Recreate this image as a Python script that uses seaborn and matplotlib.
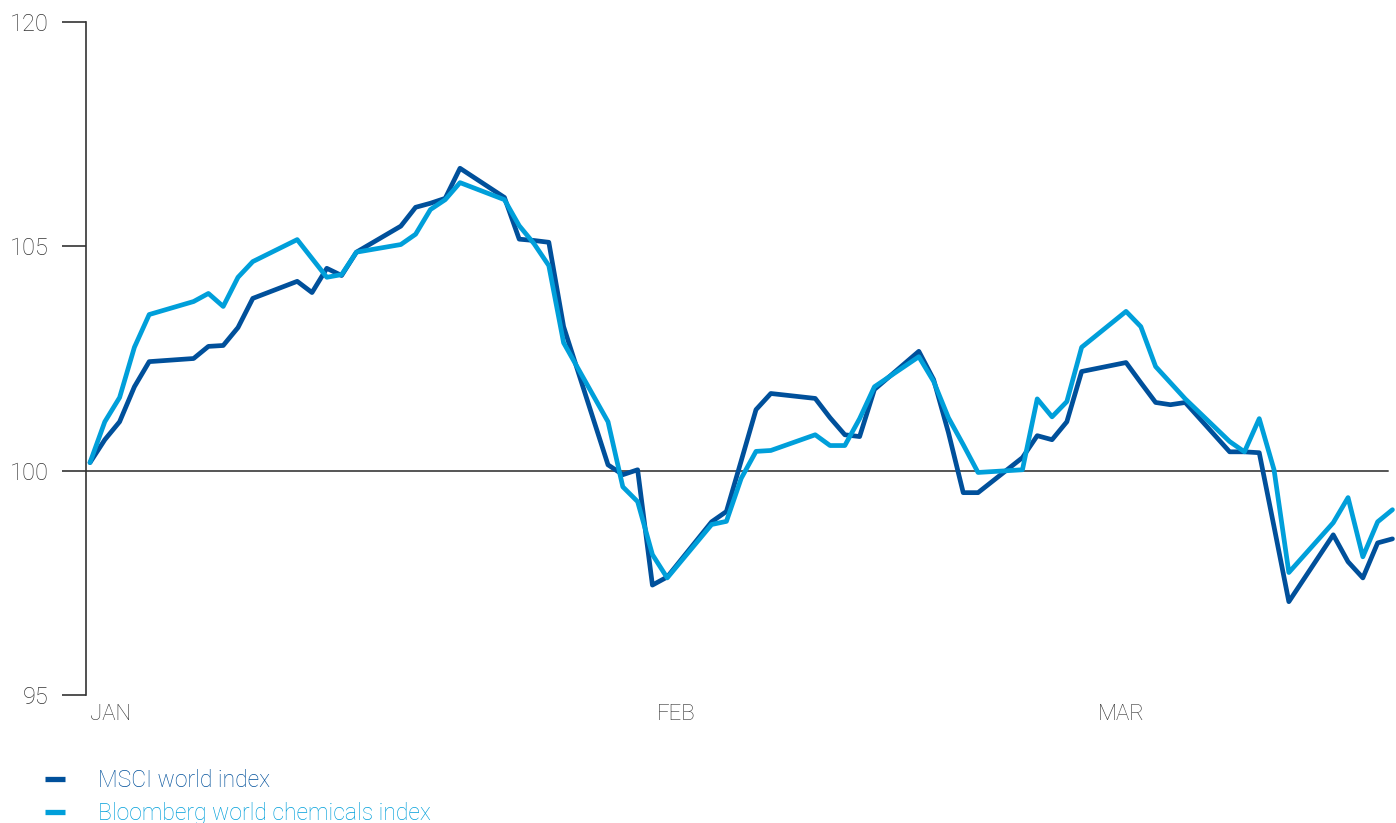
import matplotlib
matplotlib.use("Agg")
import matplotlib.pyplot as plt
import seaborn as sns
import pandas as pd

# trading days counted from the first day of the chart
days = [0, 1, 2, 3, 4, 7, 8, 9, 10, 11, 14, 15, 16, 17, 18, 21, 22, 23, 24, 25,
        28, 29, 30, 31, 32, 35, 36, 37, 38, 39, 42, 43, 44, 45, 46, 49, 50, 51, 52, 53,
        56, 57, 58, 59, 60, 63, 64, 65, 66, 67, 70, 71, 72, 73, 74, 77, 78, 79, 80, 81,
        84, 85, 86, 87, 88]

msci = [100.18, 100.69, 101.09, 101.87, 102.43, 102.50, 102.77, 102.79, 103.19, 103.84,
        104.22, 103.97, 104.51, 104.35, 104.87, 105.45, 105.87, 105.96, 106.07, 106.74,
        106.09, 105.16, 105.13, 105.09, 103.21, 100.13, 99.91, 100.02, 97.45, 97.63,
        98.86, 99.09, 100.22, 101.36, 101.72, 101.61, 101.18, 100.80, 100.76, 101.81,
        102.66, 102.03, 100.85, 99.51, 99.51, 100.29, 100.78, 100.69, 101.09, 102.21,
        102.41, 101.96, 101.52, 101.47, 101.52, 100.42, 100.42, 100.40, 98.75, 97.08,
        98.57, 97.97, 97.61, 98.39, 98.48]

chemicals = [100.18, 101.09, 101.63, 102.75, 103.48, 103.77, 103.95, 103.66, 104.31, 104.66,
             105.15, 104.73, 104.31, 104.37, 104.87, 105.04, 105.27, 105.82, 106.04, 106.42,
             106.04, 105.46, 105.06, 104.57, 102.85, 101.09, 99.64, 99.31, 98.13, 97.61,
             98.80, 98.87, 99.83, 100.43, 100.45, 100.80, 100.56, 100.56, 101.16, 101.87,
             102.54, 101.99, 101.18, 100.58, 99.96, 100.02, 101.60, 101.20, 101.54, 102.75,
             103.55, 103.21, 102.32, 101.96, 101.60, 100.65, 100.42, 101.16, 100.02, 97.73,
             98.84, 99.40, 98.08, 98.86, 99.13]

series_names = ["MSCI world index", "Bloomberg world chemicals index"]
colors = ["#00509B", "#009FDA"]

month_labels = ["JAN", "FEB", "MAR"]
month_pos = [0, 38.3, 68.1]

y_ticks = [95, 100, 105, 110]
y_labels = ["95", "100", "105", "120"]

df = pd.concat([
    pd.DataFrame({"day": days, "value": msci, "series": series_names[0]}),
    pd.DataFrame({"day": days, "value": chemicals, "series": series_names[1]}),
])

sns.set_style("white")
plt.rcParams["font.family"] = ["Roboto", "DejaVu Sans"]
plt.rcParams["font.weight"] = "light"

fig = plt.figure(figsize=(13.96, 8.23), dpi=100)
ax = fig.add_axes([86 / 1396, 1 - 695 / 823, 1310 / 1396, 673 / 823])

ax.axhline(100, xmin=0, xmax=0.994, color="#555555", lw=1.4, zorder=1)

sns.lineplot(data=df, x="day", y="value", hue="series", palette=colors,
             linewidth=3.4, ax=ax, legend=False, zorder=3)

ax.set_xlim(-0.27, 88.24)
ax.set_ylim(95, 110)

for s in ["top", "right", "bottom"]:
    ax.spines[s].set_visible(False)
ax.spines["left"].set_color("#333333")
ax.spines["left"].set_linewidth(1.2)

ax.set_yticks(y_ticks)
ax.set_yticklabels(y_labels, fontsize=17, color="#333333")
ax.tick_params(axis="y", left=True, length=17, width=1.2, color="#333333", pad=10)

ax.set_xticks(month_pos)
ax.set_xticklabels(month_labels, fontsize=16, color="#333333", ha="left")
ax.tick_params(axis="x", bottom=False, pad=3)
ax.set_xlabel("")
ax.set_ylabel("")

handles = [plt.Line2D([], [], color=c, lw=3.8, solid_capstyle="butt") for c in colors]
fig.legend(handles, series_names, loc="upper left",
           bbox_to_anchor=(45 / 1396, 1 - 769 / 823), frameon=False,
           fontsize=16.5, handlelength=0.87, handletextpad=1.45,
           labelspacing=0.42, labelcolor=colors, borderaxespad=0, borderpad=0)

fig.savefig("out.png", dpi=100)
